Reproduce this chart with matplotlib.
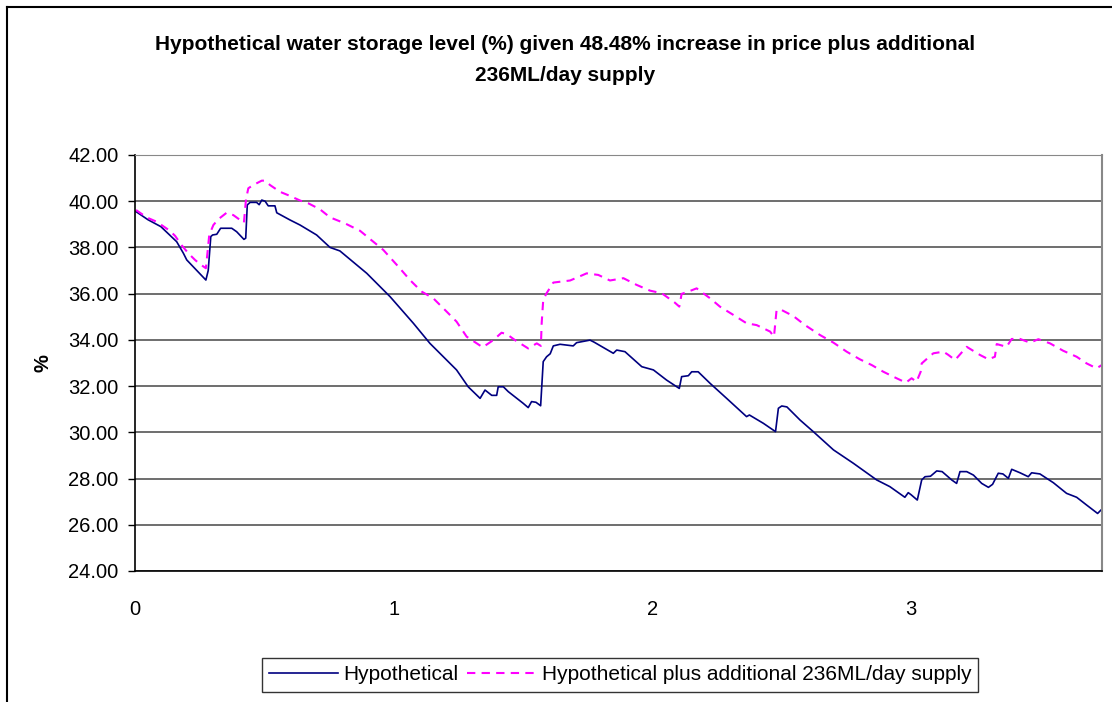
import matplotlib
matplotlib.use("Agg")
import matplotlib.pyplot as plt
from matplotlib.lines import Line2D

# ---- data ----
hyp_x = [0.004, 0.05, 0.10, 0.161, 0.187, 0.20, 0.274, 0.283, 0.293, 0.30, 0.316, 0.331,
         0.374, 0.393, 0.421, 0.428, 0.434, 0.445, 0.47, 0.48, 0.49, 0.503, 0.515, 0.541,
         0.548, 0.599, 0.638, 0.702, 0.754, 0.792, 0.896, 0.986, 1.076, 1.14, 1.243, 1.288,
         1.334, 1.353, 1.379, 1.398, 1.404, 1.424, 1.443, 1.50, 1.52, 1.533, 1.55, 1.568,
         1.578, 1.591, 1.605, 1.617, 1.643, 1.694, 1.707, 1.759, 1.775, 1.849, 1.862, 1.894,
         1.959, 2.004, 2.055, 2.104, 2.113, 2.139, 2.152, 2.177, 2.223, 2.287, 2.364, 2.375,
         2.429, 2.476, 2.487, 2.50, 2.52, 2.571, 2.622, 2.70, 2.777, 2.867, 2.918, 2.976,
         2.989, 3.0, 3.024, 3.041, 3.054, 3.075, 3.099, 3.12, 3.157, 3.176, 3.189, 3.215,
         3.241, 3.273, 3.299, 3.315, 3.337, 3.355, 3.376, 3.389, 3.421, 3.453, 3.466, 3.498,
         3.55, 3.601, 3.64, 3.679, 3.721, 3.737]
hyp_y = [39.55, 39.2, 38.9, 38.25, 37.75, 37.46, 36.59, 37.0, 38.47, 38.54, 38.57, 38.83,
         38.83, 38.68, 38.35, 38.4, 39.84, 39.95, 39.95, 39.85, 40.05, 40.0, 39.8, 39.8,
         39.5, 39.19, 38.97, 38.54, 38.0, 37.85, 36.88, 35.87, 34.72, 33.85, 32.70, 31.97,
         31.47, 31.83, 31.6, 31.6, 31.97, 31.97, 31.76, 31.26, 31.07, 31.33, 31.3, 31.15,
         33.06, 33.27, 33.4, 33.74, 33.81, 33.74, 33.88, 33.99, 33.9, 33.42, 33.56, 33.49,
         32.84, 32.70, 32.26, 31.90, 32.41, 32.45, 32.62, 32.62, 32.12, 31.47, 30.68, 30.75,
         30.39, 30.03, 31.04, 31.14, 31.1, 30.53, 30.03, 29.24, 28.66, 27.94, 27.65, 27.19,
         27.39, 27.3, 27.07, 27.94, 28.08, 28.1, 28.33, 28.3, 27.94, 27.79, 28.30, 28.3,
         28.15, 27.79, 27.62, 27.75, 28.23, 28.2, 28.01, 28.40, 28.25, 28.08, 28.25, 28.2,
         27.82, 27.36, 27.19, 26.85, 26.49, 26.67]

sup_x = [0.004, 0.045, 0.084, 0.135, 0.155, 0.18, 0.206, 0.232, 0.251, 0.274, 0.28, 0.287,
         0.303, 0.322, 0.354, 0.38, 0.406, 0.421, 0.429, 0.438, 0.457, 0.49, 0.503, 0.522,
         0.56, 0.599, 0.638, 0.67, 0.715, 0.754, 0.812, 0.87, 0.921, 0.96, 1.018, 1.063,
         1.108, 1.153, 1.205, 1.243, 1.282, 1.344, 1.385, 1.417, 1.437, 1.469, 1.52, 1.553,
         1.569, 1.572, 1.578, 1.591, 1.617, 1.682, 1.707, 1.746, 1.791, 1.836, 1.888, 1.939,
         1.991, 2.036, 2.087, 2.104, 2.113, 2.139, 2.171, 2.223, 2.261, 2.313, 2.364, 2.403,
         2.455, 2.47, 2.48, 2.50, 2.545, 2.59, 2.648, 2.70, 2.751, 2.802, 2.848, 2.893,
         2.944, 2.98, 3.002, 3.021, 3.037, 3.041, 3.067, 3.086, 3.125, 3.144, 3.17, 3.215,
         3.266, 3.299, 3.324, 3.331, 3.369, 3.389, 3.421, 3.46, 3.492, 3.537, 3.588, 3.64,
         3.679, 3.717, 3.737]
sup_y = [39.62, 39.3, 39.11, 38.72, 38.5, 38.1, 37.75, 37.46, 37.28, 37.1, 37.75, 38.54,
         38.97, 39.22, 39.5, 39.4, 39.19, 39.07, 40.08, 40.56, 40.7, 40.89, 40.89, 40.70,
         40.41, 40.23, 40.03, 39.91, 39.65, 39.3, 39.04, 38.72, 38.25, 37.89, 37.17, 36.59,
         36.09, 35.8, 35.22, 34.79, 34.14, 33.68, 33.99, 34.31, 34.25, 33.99, 33.63, 33.85,
         33.74, 34.72, 35.73, 36.02, 36.48, 36.57, 36.69, 36.88, 36.81, 36.57, 36.67, 36.38,
         36.13, 36.02, 35.61, 35.44, 35.99, 36.09, 36.23, 35.8, 35.44, 35.08, 34.72, 34.64,
         34.36, 34.14, 35.29, 35.29, 35.03, 34.64, 34.21, 33.88, 33.49, 33.16, 32.91, 32.62,
         32.34, 32.15, 32.34, 32.19, 32.62, 32.98, 33.24, 33.42, 33.49, 33.35, 33.13, 33.7,
         33.35, 33.16, 33.27, 33.82, 33.7, 34.04, 34.04, 33.88, 34.03, 33.85, 33.53, 33.27,
         32.98, 32.77, 32.91]

y_ticks = [24, 26, 28, 30, 32, 34, 36, 38, 40, 42]
x_ticks = [0, 1, 2, 3]
title = "Hypothetical water storage level (%) given 48.48% increase in price plus additional\n236ML/day supply"
label_hyp = "Hypothetical"
label_sup = "Hypothetical plus additional 236ML/day supply"

plt.rcParams['font.family'] = ['Liberation Sans', 'DejaVu Sans']

W, H = 1112, 702
fig = plt.figure(figsize=(W / 100, H / 100), dpi=100)
fig.patch.set_facecolor('white')

# figure frame (top and left edges visible)
fig.add_artist(Line2D([7 / W, 1.0], [1 - 7 / H, 1 - 7 / H], color='black', lw=1.5,
                      transform=fig.transFigure))
fig.add_artist(Line2D([7 / W, 7 / W], [0.0, 1 - 7 / H], color='black', lw=1.5,
                      transform=fig.transFigure))

ax = fig.add_axes([135 / W, 1 - 571 / H, (1102 - 135) / W, (571 - 155) / H])
ax.plot(hyp_x, hyp_y, color='#000080', lw=1.2, label=label_hyp)
ax.plot(sup_x, sup_y, color='#FF00FF', lw=1.5, linestyle=(0, (4, 3)), label=label_sup)

ax.set_xlim(0, 3.738)
ax.set_ylim(24, 42)
ax.set_yticks(y_ticks)
ax.set_yticklabels([f"{v:.2f}" for v in y_ticks])
ax.set_xticks(x_ticks)
ax.set_xticklabels([str(v) for v in x_ticks])
ax.grid(axis='y', color='#555555', lw=1.2)
ax.set_axisbelow(True)
ax.tick_params(axis='y', direction='out', length=5, width=1, labelsize=14.5, pad=7)
ax.tick_params(axis='x', length=0, labelsize=14.5, pad=21)
for side in ['left', 'bottom']:
    ax.spines[side].set_color('black')
    ax.spines[side].set_linewidth(1.2)
ax.spines['top'].set_color('#888888')
ax.spines['right'].set_color('#888888')
ax.spines['right'].set_linewidth(1.5)

ax.set_ylabel('%', fontsize=14.5, fontweight='bold', labelpad=11)

fig.text(565 / W, 1 - 60 / H, title, ha='center', va='center', fontsize=15,
         fontweight='bold', linespacing=1.75)

leg = fig.legend(loc='center', bbox_to_anchor=(620 / W, 1 - 675 / H), ncol=2,
                 fontsize=15, frameon=True, fancybox=False, handlelength=3.3,
                 columnspacing=0.4, handletextpad=0.28, borderpad=0.35,
                 borderaxespad=0)
leg.get_frame().set_edgecolor('black')
leg.get_frame().set_linewidth(1.0)

fig.savefig('out.png', dpi=100)
